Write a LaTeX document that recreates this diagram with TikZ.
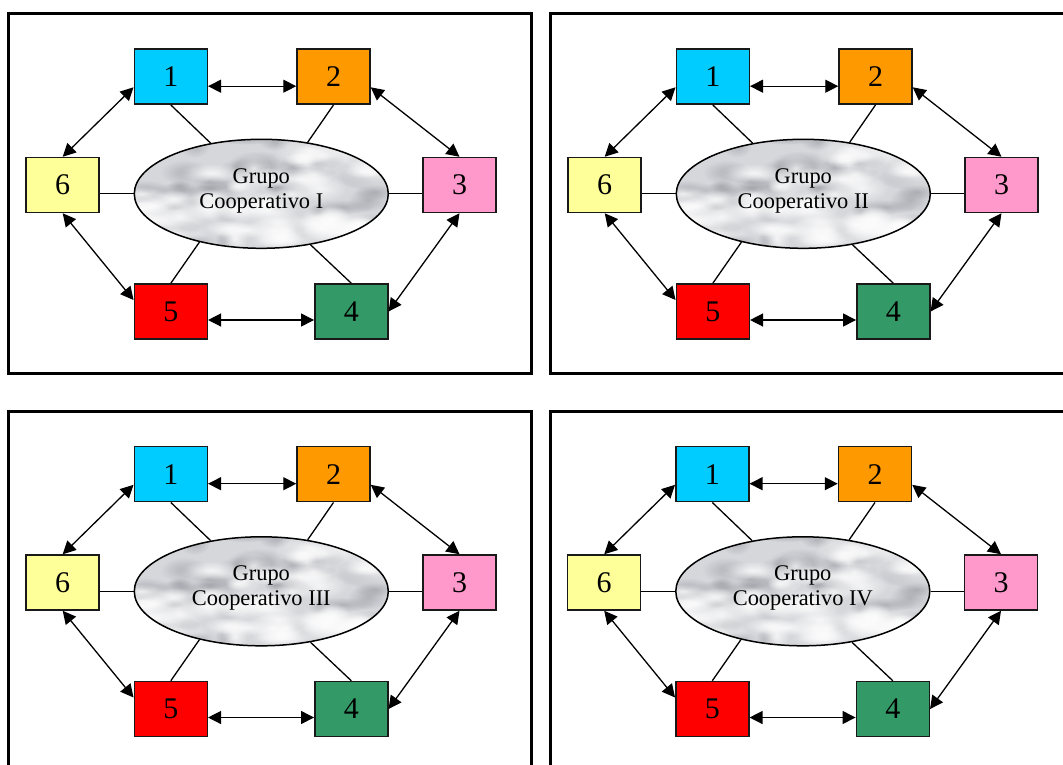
\documentclass[tikz,border=0pt]{standalone}
\usepackage{fontspec}
\setmainfont{Liberation Serif}
\usetikzlibrary{arrows.meta,shapes.geometric,fadings}
\tikzfading[name=softblob, inner color=transparent!0, outer color=transparent!100]
\definecolor{cOne}{HTML}{00CCFF}
\definecolor{cTwo}{HTML}{FF9900}
\definecolor{cThree}{HTML}{FF99CC}
\definecolor{cFour}{HTML}{339966}
\definecolor{cFive}{HTML}{FF0000}
\definecolor{cSix}{HTML}{FFFF99}
\definecolor{marbleBase}{RGB}{214,215,219}
\definecolor{marbleDark}{RGB}{140,142,150}
\newcommand\digitFont{\fontsize{30}{36}\selectfont}
\newcommand\ellFont{\fontsize{22.4}{25.8}\selectfont}
\tikzset{
  frame/.style={line width=3pt, draw=black},
  numbox/.style={draw=black!90, line width=1.5pt, minimum width=73pt, minimum height=55pt, inner sep=0pt, font=\digitFont},
  biarrow/.style={{Triangle[length=13pt,width=13pt]}-{Triangle[length=13pt,width=13pt]}, line width=1.3pt},
  spoke/.style={line width=1.3pt},
  groupell/.style={draw=black, line width=1.5pt, ellipse, minimum width=254pt, minimum height=109pt, inner sep=0pt},
  grouptext/.style={align=center, font=\ellFont, inner sep=0pt},
}
\newcommand{\coopPanel}[4]{%
\begin{scope}[shift={(#1,#2)}]
  \draw[frame] (8.5,13.5) rectangle (531.5,373.5);
  % marble texture
  \begin{scope}
    \clip (261.3,193.8) ellipse [x radius=127pt, y radius=54.5pt];
    \fill[marbleBase] (261.3,193.8) ellipse [x radius=127pt, y radius=54.5pt];
    \pgfmathsetseed{4711}
    \foreach \k in {1,...,50}{
      \pgfmathsetmacro\bx{261.3+rand*128}
      \pgfmathsetmacro\by{193.8+rand*56}
      \pgfmathsetmacro\ba{10+rnd*22}
      \pgfmathsetmacro\bb{4+rnd*9}
      \fill[marbleDark, opacity=0.5, path fading=softblob] (\bx,\by) ellipse [x radius=\ba pt, y radius=\bb pt];
    }
    \foreach \k in {1,...,55}{
      \pgfmathsetmacro\bx{261.3+rand*120}
      \pgfmathsetmacro\by{193.8+rand*50}
      \pgfmathsetmacro\ba{12+rnd*24}
      \pgfmathsetmacro\bb{6+rnd*10}
      \fill[white, opacity=0.75, path fading=softblob] (\bx,\by) ellipse [x radius=\ba pt, y radius=\bb pt];
    }
  \end{scope}
  \node[groupell] (#3e) at (261.3,193.8) {};
  \node[grouptext] (#3t) at ([yshift=3pt]#3e.center) {Grupo\\[-1pt]Cooperativo #4};
  \node[numbox, fill=cOne]   (#31) at (170.8,76.7) {1};
  \node[numbox, fill=cTwo]   (#32) at (333.5,76.7) {2};
  \node[numbox, fill=cThree] (#33) at (459.5,185) {3};
  \node[numbox, fill=cFour]  (#34) at (351.3,311.5) {4};
  \node[numbox, fill=cFive]  (#35) at (170.8,311.5) {5};
  \node[numbox, fill=cSix]   (#36) at (62.7,185) {6};
  % spokes
  \draw[spoke] (#31.south) -- (#3e.135);
  \draw[spoke] (#32.south) -- (#3e.48);
  \draw[spoke] (#35.north) -- (#3e.218);
  \draw[spoke] (#34.north) -- (#3e.314);
  \draw[spoke] (#3e.west) -- (#3e.west -| #36.east);
  \draw[spoke] (#3e.east) -- (#3e.east -| #33.west);
  % arrows
  \draw[biarrow] ([yshift=-9.5pt]#31.east) -- ([yshift=-9.5pt]#32.west);
  \draw[biarrow] ([yshift=-10.6pt]#31.west) -- (#36.north);
  \draw[biarrow] ([yshift=-10.6pt]#32.east) -- (#33.north);
  \draw[biarrow] (#33.south) -- (#34.east);
  \draw[biarrow] ([yshift=-8.5pt]#35.east) -- ([yshift=-8.5pt]#34.west);
  \draw[biarrow] (#36.south) -- ([yshift=11.5pt]#35.west);
\end{scope}}
\begin{document}
\begin{tikzpicture}[x=1pt, y=-1pt]
  \useasboundingbox (0,0) rectangle (1063,764);
  \clip (0,0) rectangle (1063,764);
  \coopPanel{0}{0}{A}{I}
  \coopPanel{542}{0}{B}{II}
  \coopPanel{0}{397.5}{C}{III}
  \coopPanel{541.5}{397.5}{D}{IV}
\end{tikzpicture}
\end{document}
